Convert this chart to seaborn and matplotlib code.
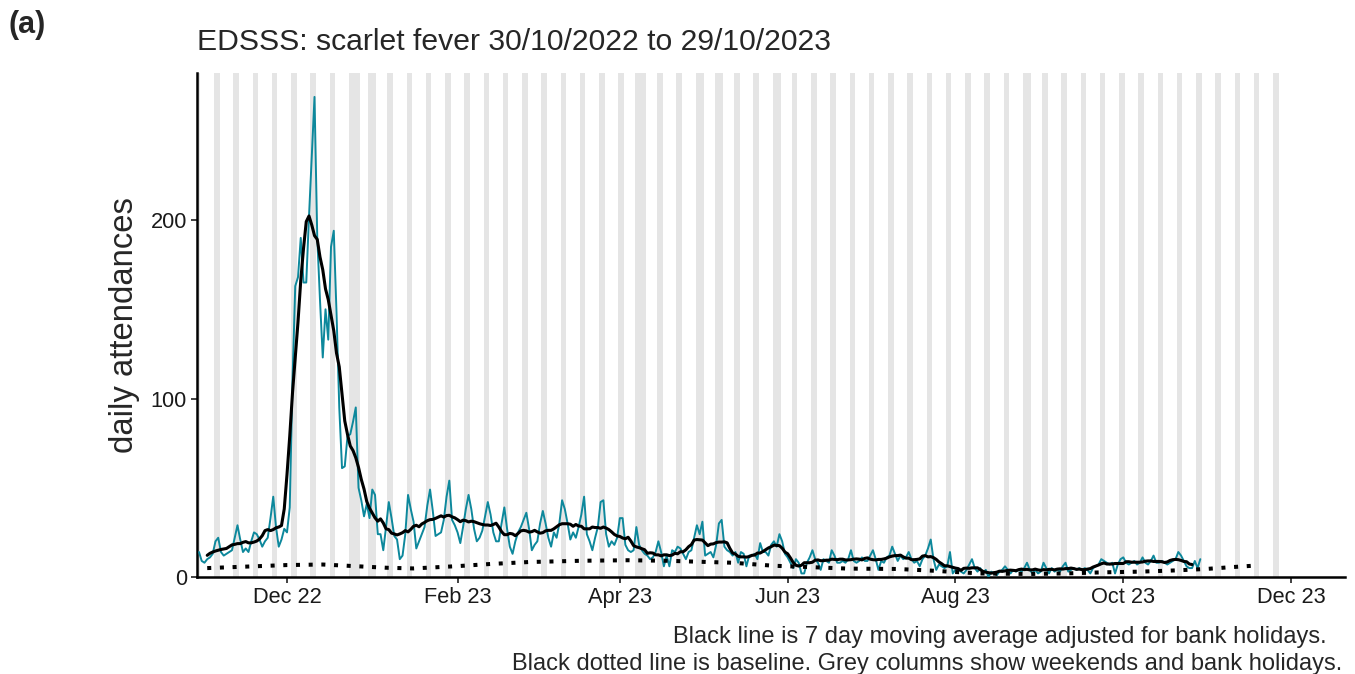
import pandas as pd
import matplotlib
matplotlib.use("Agg")
import matplotlib.pyplot as plt
import matplotlib.dates as mdates
import seaborn as sns

# daily scarlet fever attendances, one row per week (Sun..Sat), from 30/10/2022
start_date = "2022-10-30"
daily_counts = [
    14, 9, 8, 10, 11, 13, 20,          # 30 Oct
    22, 14, 12, 13, 14, 15, 22,        # 6 Nov
    29, 21, 14, 16, 14, 20, 25,        # 13 Nov
    24, 21, 17, 20, 22, 33, 45,        # 20 Nov
    28, 17, 21, 27, 25, 39, 110,       # 27 Nov
    163, 168, 190, 165, 165, 202, 235, # 4 Dec
    269, 190, 155, 123, 150, 133, 185, # 11 Dec
    194, 148, 95, 61, 62, 79, 80,      # 18 Dec
    87, 95, 50, 43, 34, 41, 33,        # 25 Dec
    49, 46, 24, 24, 15, 28, 42,        # 1 Jan
    33, 23, 21, 10, 12, 24, 46,        # 8 Jan
    38, 31, 16, 20, 24, 28, 40,        # 15 Jan
    49, 37, 23, 24, 25, 32, 45,        # 22 Jan
    54, 32, 29, 25, 19, 28, 38,        # 29 Jan
    46, 38, 27, 20, 22, 26, 34,        # 5 Feb
    42, 35, 25, 20, 20, 30, 39,        # 12 Feb
    27, 17, 13, 20, 25, 28, 32,        # 19 Feb
    36, 27, 15, 18, 20, 30, 37,        # 26 Feb
    30, 22, 17, 25, 22, 30, 43,        # 5 Mar
    38, 30, 21, 25, 22, 28, 35,        # 12 Mar
    45, 24, 20, 15, 22, 28, 42,        # 19 Mar
    43, 24, 17, 20, 18, 22, 33,        # 26 Mar
    33, 18, 15, 14, 15, 28, 18,        # 2 Apr
    15, 13, 12, 10, 11, 14, 20,        # 9 Apr
    14, 6, 12, 6, 15, 14, 17,          # 16 Apr
    16, 13, 10, 14, 15, 22, 29,        # 23 Apr
    24, 31, 12, 13, 14, 11, 18,        # 30 Apr
    30, 32, 17, 15, 14, 12, 14,        # 7 May
    8, 14, 13, 6, 12, 12, 13,          # 14 May
    10, 19, 14, 14, 12, 18, 20,        # 21 May
    17, 24, 20, 13, 11, 8, 5,          # 28 May
    10, 8, 2, 2, 8, 11, 15,            # 4 Jun
    10, 8, 4, 10, 9, 8, 15,            # 11 Jun
    12, 8, 8, 9, 8, 10, 15,            # 18 Jun
    9, 8, 9, 11, 9, 9, 12,             # 25 Jun
    15, 10, 4, 9, 8, 11, 12,           # 2 Jul
    17, 13, 9, 12, 10, 11, 14,         # 9 Jul
    10, 8, 9, 6, 10, 12, 16,           # 16 Jul
    21, 10, 4, 7, 6, 5, 6,             # 23 Jul
    14, 2, 4, 4, 3, 2, 4,              # 30 Jul
    7, 10, 5, 3, 5, 2, 4,              # 6 Aug
    0, 3, 2, 1, 3, 4, 6,               # 13 Aug
    4, 2, 4, 3, 4, 3, 5,               # 20 Aug
    8, 4, 2, 4, 2, 3, 8,               # 27 Aug
    5, 2, 5, 3, 4, 3, 6,               # 3 Sep
    8, 3, 4, 5, 4, 5, 4,               # 10 Sep
    5, 4, 2, 5, 6, 7, 10,              # 17 Sep
    9, 8, 7, 8, 2, 7, 10,              # 24 Sep
    11, 8, 7, 8, 9, 7, 8,              # 1 Oct
    11, 8, 7, 9, 12, 8, 8,             # 8 Oct
    9, 8, 7, 8, 9, 10, 14,             # 15 Oct
    12, 9, 6, 5, 5, 9, 5,              # 22 Oct
    10,                                # 29 Oct
]

baseline_dates = ["2022-11-02", "2022-12-01", "2022-12-14", "2022-12-23", "2023-01-06",
                  "2023-01-16", "2023-02-01", "2023-02-13", "2023-02-27", "2023-03-18",
                  "2023-04-04", "2023-04-18", "2023-05-12", "2023-05-27", "2023-06-05",
                  "2023-06-23", "2023-07-11", "2023-07-23", "2023-08-10", "2023-08-28",
                  "2023-09-10", "2023-09-23", "2023-10-07", "2023-10-20", "2023-10-31",
                  "2023-11-10", "2023-11-19"]
baseline_values = [5, 6.7, 7, 6.3, 5.2, 4.8, 6.1, 7.3, 8.4, 9.1, 9.4, 9.1, 8, 6.3, 5.8,
                   4.7, 4.5, 3.6, 2, 1.7, 2, 2.6, 3, 3.7, 4.5, 5.6, 6.5]

bank_holidays = ["2022-12-26", "2022-12-27", "2023-01-02", "2023-04-07", "2023-04-10",
                 "2023-05-01", "2023-05-08", "2023-05-29", "2023-08-28"]
shade_start, shade_end = "2022-10-29", "2023-11-26"

x_ticks = ["2022-12-01", "2023-02-01", "2023-04-01", "2023-06-01",
           "2023-08-01", "2023-10-01", "2023-12-01"]
y_ticks = [0, 100, 200]

df = pd.DataFrame({"date": pd.date_range(start_date, periods=len(daily_counts)),
                   "count": daily_counts})
df["ma7"] = df["count"].rolling(7, center=True).mean()

sns.set_style("ticks")
plt.rcParams["font.family"] = ["Liberation Sans", "DejaVu Sans"]

fig = plt.figure(figsize=(13.55, 6.74), dpi=100)
ax = fig.add_axes([0.1454, 0.1439, 0.8472, 0.7478])

sns.lineplot(data=df, x="date", y="count", color="#0d889c", linewidth=1.4, ax=ax, zorder=3)
sns.lineplot(data=df.dropna(), x="date", y="ma7", color="black", linewidth=2.2, ax=ax, zorder=4)
sns.lineplot(x=pd.to_datetime(baseline_dates), y=baseline_values, color="black",
             linewidth=2.9, linestyle=(0, (1, 2.15)), dash_capstyle="butt", ax=ax, zorder=4)

# grey columns for weekends and bank holidays
days = pd.date_range(shade_start, shade_end)
shade = days[(days.dayofweek >= 5) | days.isin(pd.to_datetime(bank_holidays))]
for d in shade:
    c = mdates.date2num(d)
    ax.axvspan(c - 0.5, c + 0.5, color="#e5e5e5", lw=0, zorder=0)

ax.set_xlim(pd.Timestamp("2022-10-29 07:00"), pd.Timestamp("2023-12-20 14:00"))
ax.set_ylim(0, 282.4)
ax.set_xticks(pd.to_datetime(x_ticks))
ax.xaxis.set_major_formatter(mdates.DateFormatter("%b %y"))
ax.set_yticks(y_ticks)
ax.set_xlabel("")
ax.set_ylabel("")

for s in ["top", "right"]:
    ax.spines[s].set_visible(False)
for s in ["left", "bottom"]:
    ax.spines[s].set_linewidth(1.8)
    ax.spines[s].set_color("black")
ax.tick_params(length=4.3, width=1.3, color="#333333", labelsize=15.7,
               labelcolor="#1a1a1a", pad=3)

fig.text(125 / 1355, 1 - 325 / 674, "daily attendances", rotation=90,
         ha="center", va="center", fontsize=23.7)
fig.text(197 / 1355, 1 - 42 / 674, "EDSSS: scarlet fever 30/10/2022 to 29/10/2023",
         ha="left", va="center", fontsize=21.7)
fig.text(8 / 1355, 1 - 25 / 674, "(a)", ha="left", va="center", fontsize=22, weight="bold")
fig.text(1327 / 1355, 1 - 637 / 674,
         "Black line is 7 day moving average adjusted for bank holidays.",
         ha="right", va="center", fontsize=17)
fig.text(512 / 1355, 1 - 664 / 674,
         "Black dotted line is baseline. Grey columns show weekends and bank holidays.",
         ha="left", va="center", fontsize=17)

fig.savefig("out.png", dpi=100)
